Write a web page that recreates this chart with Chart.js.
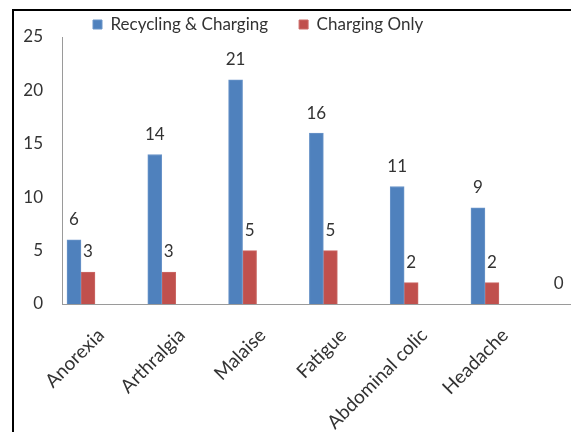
<!DOCTYPE html>
<html>
<head>
<meta charset="utf-8">
<title>Symptoms by group</title>
<script src="https://cdn.jsdelivr.net/npm/chart.js@4.4.1/dist/chart.umd.min.js"></script>
<style>
  html, body { margin: 0; padding: 0; background: #fff; }
  #frame {
    position: absolute; left: 12px; top: 9px;
    width: 557px; height: 421px;
    border-top: 2px solid #000; border-left: 2px solid #000;
  }
  #box { position: relative; width: 557px; height: 421px; }
</style>
</head>
<body>
<div id="frame"><div id="box"><canvas id="symptomChart"></canvas></div></div>
<script>
// symptom counts per group
const categories        = ['Anorexia', 'Arthralgia', 'Malaise', 'Fatigue', 'Abdominal colic', 'Headache', ''];
const recyclingCharging = [6, 14, 21, 16, 11, 9, 0];
const chargingOnly      = [3, 3, 5, 5, 2, 2, null];
const yTicks            = [0, 5, 10, 15, 20, 25];

const FONT = { family: 'Lato, "Open Sans", sans-serif', size: 17 };
const TEXT = '#333';
const AXIS = '#9a9a9a';

const toPoints = arr => arr.map((v, i) => ({ x: i, y: v }));

// numbers above each bar
const valueLabels = {
  id: 'valueLabels',
  afterDatasetsDraw(chart) {
    const ctx = chart.ctx;
    ctx.save();
    ctx.font = `${FONT.size}px ${FONT.family}`;
    ctx.fillStyle = TEXT;
    ctx.textAlign = 'center';
    ctx.textBaseline = 'middle';
    chart.data.datasets.forEach((ds, i) => {
      chart.getDatasetMeta(i).data.forEach((bar, j) => {
        const v = ds.data[j].y;
        if (v === null || v === undefined) return;
        ctx.fillText(String(v), bar.x, bar.y - 20);
      });
    });
    ctx.restore();
  }
};

// legend sits a little lower than the layout puts it
const legendNudge = {
  id: 'legendNudge',
  afterLayout(chart) {
    if (!chart.legend) return;
    chart.legend.top += 6;
    chart.legend.bottom += 6;
  }
};

new Chart(document.getElementById('symptomChart'), {
  type: 'bar',
  data: {
    datasets: [
      {
        label: 'Recycling & Charging',
        data: toPoints(recyclingCharging),
        backgroundColor: '#4f81bd',
        borderColor: '#6b95c9',
        borderWidth: 1,
      },
      {
        label: 'Charging Only',
        data: toPoints(chargingOnly),
        backgroundColor: '#c0504d',
        borderColor: '#cc6a67',
        borderWidth: 1,
      },
    ],
  },
  options: {
    responsive: true,
    maintainAspectRatio: false,
    animation: false,
    barThickness: 14,
    layout: { padding: { top: -32, right: 0, bottom: 0, left: 0 } },
    plugins: {
      tooltip: { enabled: false },
      legend: {
        position: 'top',
        align: 'start',
        fullSize: false,
        labels: { boxWidth: 9, boxHeight: 9, padding: 31, font: FONT, color: TEXT },
      },
    },
    scales: {
      x: {
        type: 'linear',
        offset: false,
        min: -0.235,
        max: 6.065,
        grid: { display: false, drawTicks: false },
        border: { color: AXIS, width: 1 },
        afterBuildTicks: scale => { scale.ticks = categories.map((c, i) => ({ value: i })); },
        afterFit: scale => {
          scale.height = 128;
          scale.paddingLeft = 0;
          scale.paddingRight = 0;
        },
        ticks: {
          autoSkip: false,
          minRotation: 45,
          maxRotation: 45,
          labelOffset: 20,
          padding: 20,
          font: { family: FONT.family, size: 19 },
          color: TEXT,
          callback: v => categories[v] ?? '',
        },
      },
      y: {
        min: 0,
        max: 25,
        grid: { display: false, drawTicks: false },
        border: { color: AXIS, width: 1 },
        afterBuildTicks: scale => { scale.ticks = yTicks.map(v => ({ value: v })); },
        afterFit: scale => {
          scale.width = 48;
          scale.paddingTop = 0;
          scale.paddingBottom = 0;
        },
        ticks: { padding: 19, font: FONT, color: TEXT },
      },
    },
  },
  plugins: [valueLabels, legendNudge],
});
</script>
</body>
</html>
